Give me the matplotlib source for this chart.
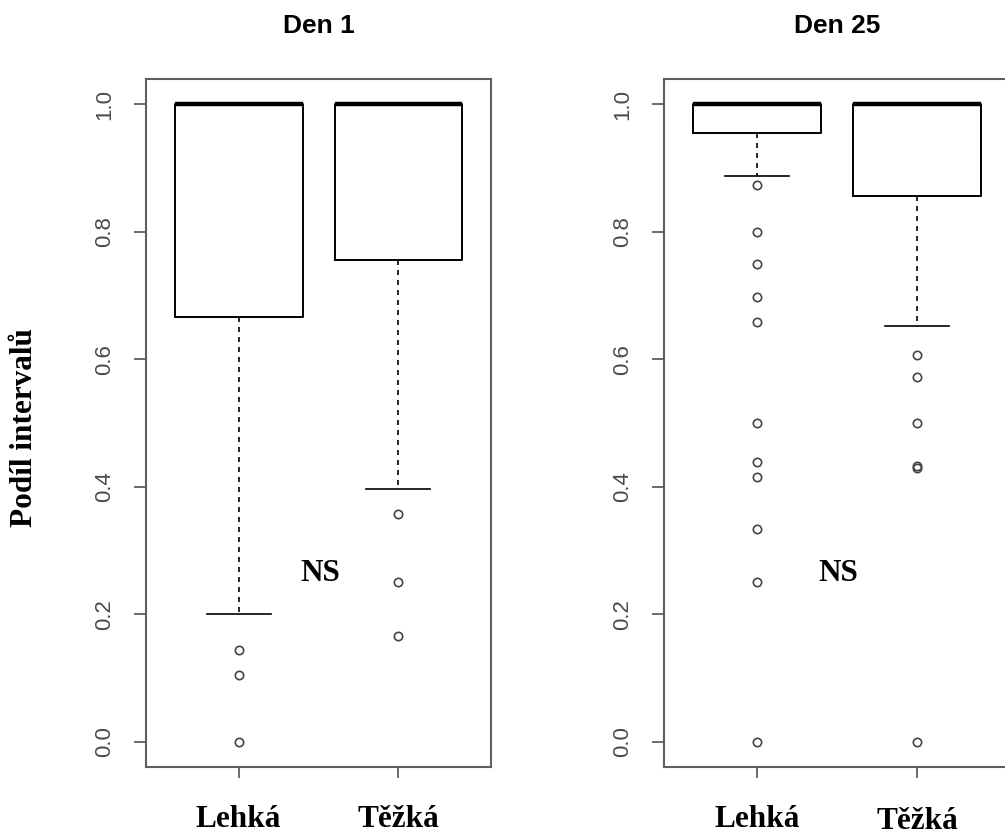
"""
Box plots of the share of intervals for light and heavy groups, day 1 and day 25.
"""

import matplotlib
matplotlib.use('Agg')
import matplotlib.pyplot as plt

# Groups
Labels = ['Lehká', 'Těžká']

# Day 1 box statistics
Den1_Q1     = [0.667, 0.756]
Den1_Med    = [1.0, 1.0]
Den1_Q3     = [1.0, 1.0]
Den1_WhisLo = [0.200, 0.397]
Den1_WhisHi = [1.0, 1.0]
Den1_Fliers = [[0.143, 0.105, 0.0], [0.357, 0.250, 0.165]]

# Day 25 box statistics
Den25_Q1     = [0.956, 0.857]
Den25_Med    = [1.0, 1.0]
Den25_Q3     = [1.0, 1.0]
Den25_WhisLo = [0.888, 0.652]
Den25_WhisHi = [1.0, 1.0]
Den25_Fliers = [[0.874, 0.800, 0.750, 0.698, 0.658, 0.500, 0.439, 0.416, 0.333, 0.250, 0.0],
				[0.606, 0.572, 0.500, 0.433, 0.429, 0.0]]

Titles = ['Den 1', 'Den 25']
Y_Label = 'Podíl intervalů'
Note = 'NS'

Frame_Color = '#5f5f5f'
Tick_Color  = '#4a4a4a'

def Make_Stats(Q1, Med, Q3, WhisLo, WhisHi, Fliers):

	Stats = []
	for i in range(len(Labels)):
		Stats.append({'label': Labels[i], 'q1': Q1[i], 'med': Med[i], 'q3': Q3[i],
					  'whislo': WhisLo[i], 'whishi': WhisHi[i], 'fliers': Fliers[i]})
	return Stats

def Plot_Box(ax, Stats, Title, Label_Offsets):

	ax.bxp(Stats, positions=[1, 2], widths=0.8, capwidths=0.4, patch_artist=False,
		   boxprops=dict(color='black', linewidth=1.4),
		   medianprops=dict(color='black', linewidth=3.2, solid_capstyle='butt'),
		   whiskerprops=dict(color='black', linewidth=1.2, linestyle=(0, (3, 3))),
		   capprops=dict(color='black', linewidth=1.2),
		   flierprops=dict(marker='o', markerfacecolor='none', markeredgecolor='#444444',
						   markersize=6, markeredgewidth=1.2, linestyle='none'))

	ax.set_xlim(0.42, 2.58)
	ax.set_ylim(-0.04, 1.04)
	ax.set_yticks([0.0, 0.2, 0.4, 0.6, 0.8, 1.0])
	ax.set_yticklabels(['0.0', '0.2', '0.4', '0.6', '0.8', '1.0'], rotation=90, va='center',
					   fontsize=16, family='Liberation Sans', color=Tick_Color)
	ax.set_xticks([1, 2])
	ax.set_xticklabels([])
	ax.tick_params(axis='y', length=9, width=1.3, color=Frame_Color, pad=13)
	ax.tick_params(axis='x', length=8, width=1.3, color=Frame_Color)
	for s in ax.spines.values():
		s.set_color(Frame_Color)
		s.set_linewidth(1.5)

	# Group names under the axis
	for i, Name in enumerate(Labels):
		ax.annotate(Name, xy=(i + 1, 0), xycoords=('data', 'axes fraction'),
					xytext=(0, -60 - Label_Offsets[i]), textcoords='offset pixels',
					ha='center', va='baseline', fontsize=22.5, fontweight='bold',
					family='Liberation Serif', annotation_clip=False)

	ax.text(1.51, 0.263, Note, ha='center', va='center', fontsize=22.5,
			fontweight='bold', family='Liberation Serif')

	ax.set_title(Title, fontsize=19, fontweight='bold', family='Liberation Sans', pad=33)

	return

if (__name__ == '__main__'):

	fig = plt.figure(figsize=(10.05, 8.35), dpi=100)

	ax1 = fig.add_axes([0.1453, 0.0814, 0.3433, 0.824])
	ax2 = fig.add_axes([0.6607, 0.0814, 0.3443, 0.824])

	Plot_Box(ax1, Make_Stats(Den1_Q1, Den1_Med, Den1_Q3, Den1_WhisLo, Den1_WhisHi, Den1_Fliers),
			 Titles[0], [0, 0])
	Plot_Box(ax2, Make_Stats(Den25_Q1, Den25_Med, Den25_Q3, Den25_WhisLo, Den25_WhisHi, Den25_Fliers),
			 Titles[1], [0, 2])

	# Right frame of the second panel falls past the page edge
	ax2.spines['right'].set_visible(False)

	fig.text(25 / 1005, 1 - 428 / 835, Y_Label, rotation=90, ha='center', va='center',
			 fontsize=22.5, fontweight='bold', family='Liberation Serif')

	plt.savefig('out.png', dpi=100)
	plt.close()
